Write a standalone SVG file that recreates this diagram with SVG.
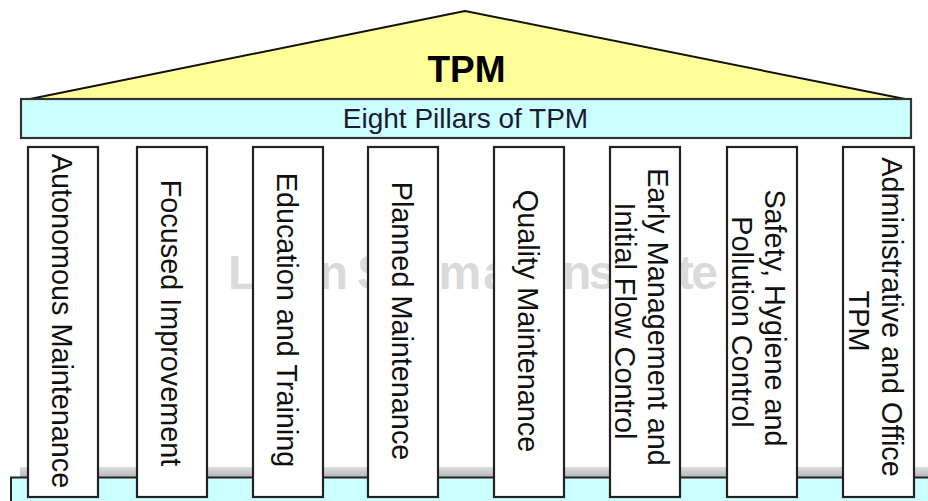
<svg xmlns="http://www.w3.org/2000/svg" width="928" height="501" viewBox="0 0 928 501">
  <defs>
    <linearGradient id="shadow" x1="0" y1="0" x2="0" y2="1">
      <stop offset="0" stop-color="#dedede"/>
      <stop offset="1" stop-color="#b4b4b4"/>
    </linearGradient>
    <style>
      .pillar { fill: #ffffff; stroke: #222222; stroke-width: 2.2; }
      .ptext { font-family: "Liberation Sans", Arial, sans-serif; font-size: 28.8px; fill: #111111; text-anchor: middle; }
      .wm { font-family: "Liberation Sans", Arial, sans-serif; font-size: 48px; font-weight: bold; fill: #dadada; }
    </style>
  </defs>
  <rect x="0" y="0" width="928" height="501" fill="#ffffff"/>

  <g id="base">
    <rect x="20" y="467" width="910" height="11" fill="url(#shadow)"/>
    <rect x="11" y="477.5" width="930" height="40" fill="#ccffff" stroke="#222222" stroke-width="2"/>
  </g>

  <g id="watermark">
    <text class="wm" y="289"><tspan x="228" textLength="120" lengthAdjust="spacing">Lean</tspan><tspan x="357" textLength="153" lengthAdjust="spacing">Sigma</tspan><tspan x="551" textLength="167" lengthAdjust="spacing">Institute</tspan></text>
  </g>

  <g id="roof">
    <polygon points="30,99 465,11 905,99" fill="#ffff99" stroke="#111111" stroke-width="2" stroke-linejoin="round"/>
    <text x="466.5" y="82" text-anchor="middle" font-family="Liberation Sans, Arial, sans-serif" font-size="37" font-weight="bold" fill="#000000">TPM</text>
  </g>

  <g id="banner">
    <rect x="21" y="99" width="890" height="39" fill="#ccffff" stroke="#333333" stroke-width="2.2"/>
    <text x="465.5" y="128" text-anchor="middle" font-family="Liberation Sans, Arial, sans-serif" font-size="28" fill="#1a1a33">Eight Pillars of TPM</text>
  </g>

  <g id="pillar1">
    <rect class="pillar" x="28" y="147" width="70" height="350"/>
    <text class="ptext" transform="translate(63,321) rotate(90)" x="0" y="11">Autonomous Maintenance</text>
  </g>
  <g id="pillar2">
    <rect class="pillar" x="137" y="147" width="70" height="350"/>
    <text class="ptext" transform="translate(172,323) rotate(90)" x="0" y="11">Focused Improvement</text>
  </g>
  <g id="pillar3">
    <rect class="pillar" x="253" y="147" width="70" height="350"/>
    <text class="ptext" transform="translate(288,320) rotate(90)" x="0" y="11">Education and Training</text>
  </g>
  <g id="pillar4">
    <rect class="pillar" x="368" y="147" width="70" height="350"/>
    <text class="ptext" transform="translate(403,321) rotate(90)" x="0" y="11">Planned Maintenance</text>
  </g>
  <g id="pillar5">
    <rect class="pillar" x="494" y="147" width="70" height="350"/>
    <text class="ptext" transform="translate(529,321) rotate(90)" x="0" y="11">Quality Maintenance</text>
  </g>
  <g id="pillar6">
    <rect class="pillar" x="610" y="147" width="70" height="350"/>
    <text class="ptext" transform="translate(645,321) rotate(90)">
      <tspan x="0" y="-3">Early Management and</tspan>
      <tspan x="0" y="30">Initial Flow Control</tspan>
    </text>
  </g>
  <g id="pillar7">
    <rect class="pillar" x="727" y="147" width="70" height="350"/>
    <text class="ptext" transform="translate(762,322) rotate(90)">
      <tspan x="0" y="-3">Safety, Hygiene and</tspan>
      <tspan x="0" y="30">Pollution Control</tspan>
    </text>
  </g>
  <g id="pillar8">
    <rect class="pillar" x="843" y="147" width="71" height="350"/>
    <text class="ptext" transform="translate(879,321) rotate(90)">
      <tspan x="0" y="-3">Administrative and Office</tspan>
      <tspan x="0" y="30">TPM</tspan>
    </text>
  </g>

  <g id="connectors"/>
</svg>
